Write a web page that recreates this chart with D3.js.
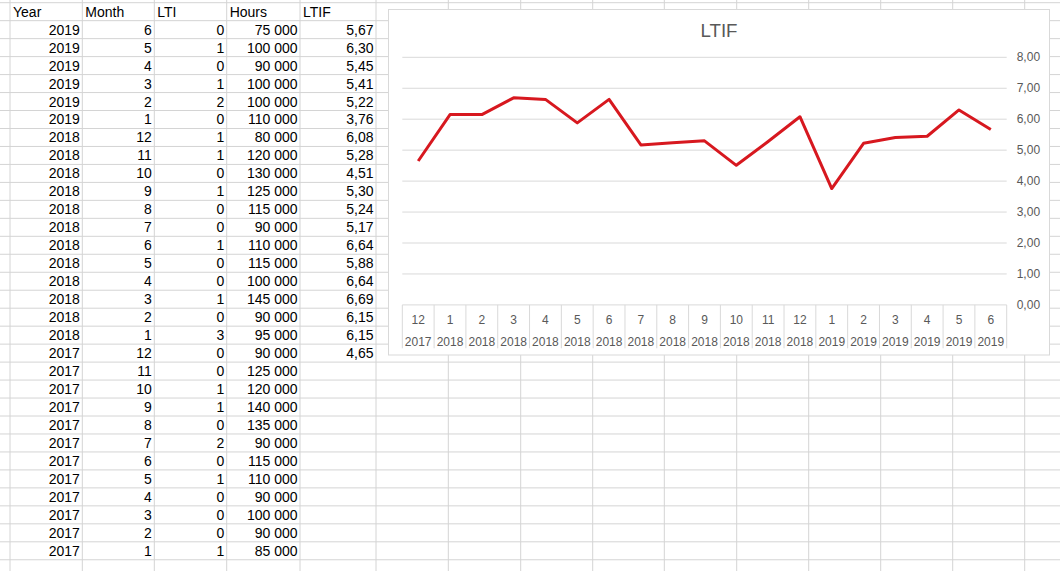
<!DOCTYPE html>
<html>
<head>
<meta charset="utf-8">
<script src="https://cdn.jsdelivr.net/npm/d3@7"></script>
<style>
  body { margin: 0; background: #fff; }
  svg { display: block; }
</style>
</head>
<body>
<div id="wrapper"></div>
<script>
// sheet data (rows as shown, newest first)
const years  = [2019,2019,2019,2019,2019,2019,2018,2018,2018,2018,2018,2018,2018,2018,2018,2018,2018,2018,2017,2017,2017,2017,2017,2017,2017,2017,2017,2017,2017,2017]
const months = [6,5,4,3,2,1,12,11,10,9,8,7,6,5,4,3,2,1,12,11,10,9,8,7,6,5,4,3,2,1]
const lti    = [0,1,0,1,2,0,1,1,0,1,0,0,1,0,0,1,0,3,0,0,1,1,0,2,0,1,0,0,0,1]
const hours  = [75000,100000,90000,100000,100000,110000,80000,120000,130000,125000,115000,90000,110000,115000,100000,145000,90000,95000,90000,125000,120000,140000,135000,90000,115000,110000,90000,100000,90000,85000]
const ltif   = [5.67,6.30,5.45,5.41,5.22,3.76,6.08,5.28,4.51,5.30,5.24,5.17,6.64,5.88,6.64,6.69,6.15,6.15,4.65]
const headers = ["Year", "Month", "LTI", "Hours", "LTIF"]
const yTicks = [0,1,2,3,4,5,6,7,8]

async function drawSheet() {
  const width = 1060
  const height = 571
  const rowH = 17.97
  const rowTop = 2.7
  const colEdges = [10, 82.3, 154.3, 226.7, 300, 376, 448.3, 520.7, 592.7, 664.3, 736.7, 808.7, 880.7, 952.7, 1024.7]
  const gridColor = '#d4d4d4'
  const font = '"Liberation Sans", Arial, sans-serif'

  const svg = d3.select('#wrapper')
    .append('svg')
    .attr('width', width)
    .attr('height', height)

  // spreadsheet grid
  const grid = svg.append('g')
  grid.selectAll('line.v')
    .data(colEdges)
    .enter().append('line')
    .attr('x1', d => d).attr('x2', d => d)
    .attr('y1', 0).attr('y2', height)
    .attr('stroke', gridColor)
  grid.selectAll('line.h')
    .data(d3.range(0, 32))
    .enter().append('line')
    .attr('x1', 0).attr('x2', width)
    .attr('y1', k => rowTop + k * rowH).attr('y2', k => rowTop + k * rowH)
    .attr('stroke', gridColor)

  const cells = svg.append('g')
    .attr('font-family', font)
    .attr('font-size', '14px')
    .attr('fill', '#000')

  const baseline = k => rowTop + (k + 1) * rowH - 4

  cells.selectAll('text.head')
    .data(headers)
    .enter().append('text')
    .attr('x', (d, i) => colEdges[i] + 3)
    .attr('y', baseline(0))
    .text(d => d)

  const fmtHours = v => d3.format(',')(v).replace(/,/g, ' ')
  const fmtLtif = v => d3.format('.2f')(v).replace('.', ',')
  const columns = [
    years.map(String),
    months.map(String),
    lti.map(String),
    hours.map(fmtHours),
    ltif.map(fmtLtif),
  ]
  columns.forEach((col, c) => {
    cells.append('g').selectAll('text')
      .data(col)
      .enter().append('text')
      .attr('x', colEdges[c + 1] - 2.5)
      .attr('y', (d, i) => baseline(i + 1))
      .attr('text-anchor', 'end')
      .text(d => d)
  })

  // chart
  const chart = { left: 388.5, top: 9.5, right: 1049.5, bottom: 355 }
  const plot = { left: 402.3, right: 1006.7, top: 57.3, bottom: 304.9 }

  svg.append('rect')
    .attr('x', chart.left).attr('y', chart.top)
    .attr('width', chart.right - chart.left)
    .attr('height', chart.bottom - chart.top)
    .attr('fill', '#fff')
    .attr('stroke', '#d9d9d9')

  svg.append('text')
    .attr('x', (chart.left + chart.right) / 2)
    .attr('y', 37)
    .attr('text-anchor', 'middle')
    .attr('font-family', font)
    .attr('font-size', '18.7px')
    .attr('fill', '#595959')
    .text('LTIF')

  // chronological order for the chart
  const series = ltif.map((v, i) => ({ year: years[i], month: months[i], value: v })).reverse()
  const keys = series.map(d => `${d.year}-${d.month}`)

  const xScaler = d3.scaleBand()
    .domain(keys)
    .range([plot.left, plot.right])
    .padding(0)

  const yScaler = d3.scaleLinear()
    .domain([0, 8])
    .range([plot.bottom, plot.top])

  svg.append('g').selectAll('line')
    .data(yTicks)
    .enter().append('line')
    .attr('x1', plot.left).attr('x2', plot.right)
    .attr('y1', d => yScaler(d)).attr('y2', d => yScaler(d))
    .attr('stroke', '#d9d9d9')

  const yAxis = svg.append('g')
    .attr('transform', `translate(${plot.right + 10}, 0)`)
    .call(d3.axisRight(yScaler)
      .tickValues(yTicks)
      .tickSize(0)
      .tickPadding(0)
      .tickFormat(fmtLtif))
  yAxis.select('.domain').remove()
  yAxis.selectAll('text')
    .attr('font-family', font)
    .attr('font-size', '12px')
    .attr('fill', '#595959')
    .attr('dy', '0.3em')

  // two-level category labels
  const catTop = plot.bottom
  const catBottom = 348.3
  const cat = svg.append('g')
  cat.selectAll('line')
    .data(d3.range(0, keys.length + 1))
    .enter().append('line')
    .attr('x1', i => plot.left + i * xScaler.bandwidth())
    .attr('x2', i => plot.left + i * xScaler.bandwidth())
    .attr('y1', catTop).attr('y2', catBottom)
    .attr('stroke', '#d9d9d9')

  const catText = cat.append('g')
    .attr('font-family', font)
    .attr('font-size', '12px')
    .attr('fill', '#595959')
    .attr('text-anchor', 'middle')
  catText.selectAll('text.m')
    .data(series)
    .enter().append('text')
    .attr('x', (d, i) => xScaler(keys[i]) + xScaler.bandwidth() / 2)
    .attr('y', 323.5)
    .text(d => d.month)
  catText.selectAll('text.y')
    .data(series)
    .enter().append('text')
    .attr('x', (d, i) => xScaler(keys[i]) + xScaler.bandwidth() / 2)
    .attr('y', 345.5)
    .text(d => d.year)

  const line = d3.line()
    .x((d, i) => xScaler(keys[i]) + xScaler.bandwidth() / 2)
    .y(d => yScaler(d.value))

  svg.append('path')
    .datum(series)
    .attr('d', line)
    .attr('fill', 'none')
    .attr('stroke', '#d7181f')
    .attr('stroke-width', 3)
    .attr('stroke-linejoin', 'round')
}

drawSheet()
</script>
</body>
</html>
